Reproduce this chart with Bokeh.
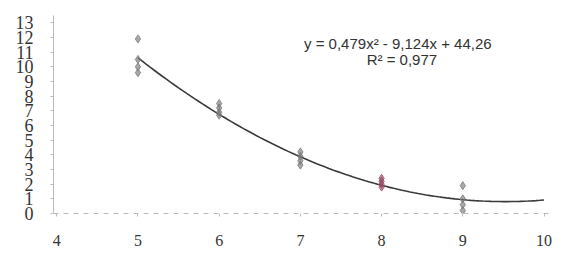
from bokeh.plotting import figure
from bokeh.models import FixedTicker, Label, Range1d
from bokeh.embed import file_html
from bokeh.resources import INLINE

# data
x5 = [5, 5, 5, 5]
y5 = [11.9, 10.5, 10.0, 9.6]
x6 = [6, 6, 6, 6]
y6 = [7.5, 7.2, 6.9, 6.7]
x7 = [7, 7, 7, 7]
y7 = [4.2, 3.9, 3.6, 3.3]
x8 = [8, 8, 8, 8]
y8 = [2.4, 2.2, 2.0, 1.8]
x9 = [9, 9, 9, 9]
y9 = [1.9, 1.0, 0.6, 0.2]

# trendline coefficients shown on the chart
coef_a, coef_b, coef_c = 0.479, -9.124, 44.26
trend_x = [5 + i * 0.05 for i in range(101)]
trend_y = [coef_a * t * t + coef_b * t + coef_c for t in trend_x]

x_ticks = [4, 5, 6, 7, 8, 9, 10]
y_ticks = list(range(0, 14))

p = figure(width=554, height=262, output_backend="svg", toolbar_location=None,
           x_range=Range1d(3.96, 10.08), y_range=Range1d(0, 13.5),
           min_border_left=53, min_border_right=4, min_border_top=15, min_border_bottom=49)
p.background_fill_color = "white"
p.border_fill_color = "white"
p.outline_line_color = None
p.xgrid.visible = False
p.ygrid.visible = False

p.line(trend_x, trend_y, line_color="#3a3a3a", line_width=1.6)

gray = "#7a7a7a"
for xs, ys, col in [(x5, y5, gray), (x6, y6, gray), (x7, y7, gray), (x8, y8, "#9a4a64"), (x9, y9, gray)]:
    p.scatter(xs, ys, marker="diamond", size=8, fill_color=col, line_color=col,
              fill_alpha=0.65, line_alpha=0.8)

p.xaxis.ticker = FixedTicker(ticks=x_ticks)
p.yaxis.ticker = FixedTicker(ticks=y_ticks, minor_ticks=[])
for ax in (p.xaxis, p.yaxis):
    ax.axis_line_color = "#bbbbbb"
    ax.major_tick_line_color = "#bbbbbb"
    ax.minor_tick_line_color = None
    ax.major_tick_in = 0
    ax.major_tick_out = 3
    ax.major_label_text_color = "#333333"
    ax.major_label_text_font = "Liberation Sans Narrow"
p.xaxis.axis_line_dash = "5 5"
p.xaxis.major_label_standoff = 18
p.xaxis.major_label_text_font_size = "16px"
p.yaxis.major_label_standoff = 17
p.yaxis.major_label_text_font_size = "18px"

p.add_layout(Label(x=8.2, y=11.6, text="y = 0,479x\u00b2 - 9,124x + 44,26", text_align="center",
                   text_baseline="middle", text_font="Liberation Sans", text_font_size="15px",
                   text_color="#333333"))
p.add_layout(Label(x=8.25, y=10.5, text="R\u00b2 = 0,977", text_align="center",
                   text_baseline="middle", text_font="Liberation Sans", text_font_size="15px",
                   text_color="#333333"))

open("out.html", "w").write(file_html(p, INLINE))
